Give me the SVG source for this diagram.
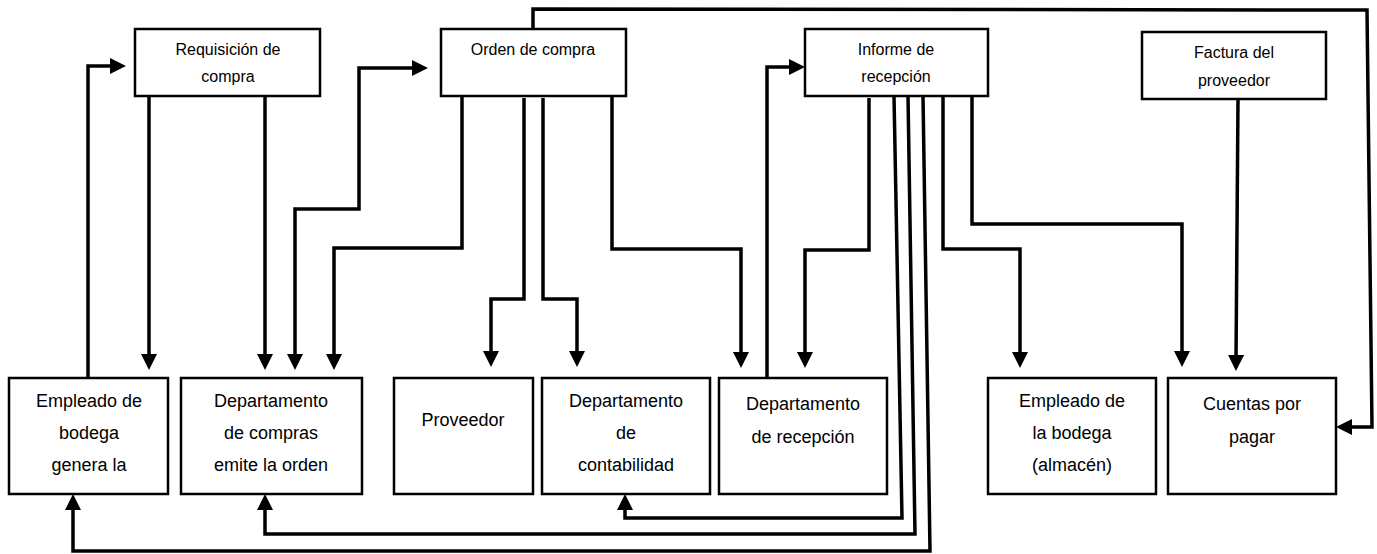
<svg xmlns="http://www.w3.org/2000/svg" width="1377" height="554" viewBox="0 0 1377 554">
<style>
.box{fill:#fff;stroke:#000;stroke-width:2.5}
.t{font-family:"Liberation Sans",Arial,sans-serif;fill:#000;text-anchor:middle}
.s{font-size:16px}
.b{font-size:18px}
.c{fill:none;stroke:#000;stroke-width:3.5;stroke-linejoin:miter;marker-end:url(#ah)}
</style>
<defs>
<marker id="ah" markerUnits="userSpaceOnUse" viewBox="0 0 16 16" refX="6" refY="8" markerWidth="16" markerHeight="16" orient="auto-start-reverse">
<path d="M0,0 L16,8 L0,16 z" fill="#000"/>
</marker>
</defs>
<g id="connectors">
<path class="c" d="M88,378 V66 H116"/>
<path class="c" d="M149,96 V360"/>
<path class="c" d="M265,96 V360"/>
<path class="c" d="M295,360 V209 H359 V68 H418" marker-start="url(#ah)"/>
<path class="c" d="M462,96 V248 H334 V360"/>
<path class="c" d="M524,98 V299 H491 V357"/>
<path class="c" d="M543,98 V299 H577 V357"/>
<path class="c" d="M612,96 V249 H741 V358"/>
<path class="c" d="M767,378 V67 H795"/>
<path class="c" d="M869,98 V250 H805 V358"/>
<path class="c" d="M894,96 L902,518 H625 V504"/>
<path class="c" d="M908,96 L915,534 H265 V504"/>
<path class="c" d="M923,96 L930,551 H73 V504"/>
<path class="c" d="M943,96 V249 H1020 V358"/>
<path class="c" d="M972,96 V224 H1182 V357"/>
<path class="c" d="M1238,99 L1236,361"/>
<path class="c" d="M533,29 V9 L1367,10 L1372,427 H1346"/>
</g>
<g id="requisicion"><rect class="box" x="135" y="29" width="185" height="67"/><text class="t s" x="228" y="55">Requisición de</text><text class="t s" x="228" y="82">compra</text></g>
<g id="orden"><rect class="box" x="441" y="29" width="185" height="67"/><text class="t s" x="533" y="55">Orden de compra</text></g>
<g id="informe"><rect class="box" x="805" y="29" width="183" height="67"/><text class="t s" x="896" y="55">Informe de</text><text class="t s" x="896" y="82">recepción</text></g>
<g id="factura"><rect class="box" x="1142" y="32" width="184" height="67"/><text class="t s" x="1234" y="58">Factura del</text><text class="t s" x="1234" y="86">proveedor</text></g>
<g id="empleado"><rect class="box" x="9" y="378" width="159" height="116"/><text class="t b" x="89" y="407">Empleado de</text><text class="t b" x="89" y="439">bodega</text><text class="t b" x="89" y="471">genera la</text></g>
<g id="compras"><rect class="box" x="181" y="378" width="181" height="116"/><text class="t b" x="271" y="407">Departamento</text><text class="t b" x="271" y="439">de compras</text><text class="t b" x="271" y="471">emite la orden</text></g>
<g id="proveedor"><rect class="box" x="394" y="378" width="139" height="116"/><text class="t b" x="463" y="426">Proveedor</text></g>
<g id="contabilidad"><rect class="box" x="542" y="378" width="168" height="116"/><text class="t b" x="626" y="407">Departamento</text><text class="t b" x="626" y="439">de</text><text class="t b" x="626" y="471">contabilidad</text></g>
<g id="recepcion"><rect class="box" x="719" y="378" width="168" height="116"/><text class="t b" x="803" y="410">Departamento</text><text class="t b" x="803" y="443">de recepción</text></g>
<g id="empleadobodega"><rect class="box" x="988" y="378" width="168" height="116"/><text class="t b" x="1072" y="407">Empleado de</text><text class="t b" x="1072" y="439">la bodega</text><text class="t b" x="1072" y="471">(almacén)</text></g>
<g id="cuentas"><rect class="box" x="1168" y="378" width="168" height="116"/><text class="t b" x="1252" y="410">Cuentas por</text><text class="t b" x="1252" y="443">pagar</text></g>
</svg>
